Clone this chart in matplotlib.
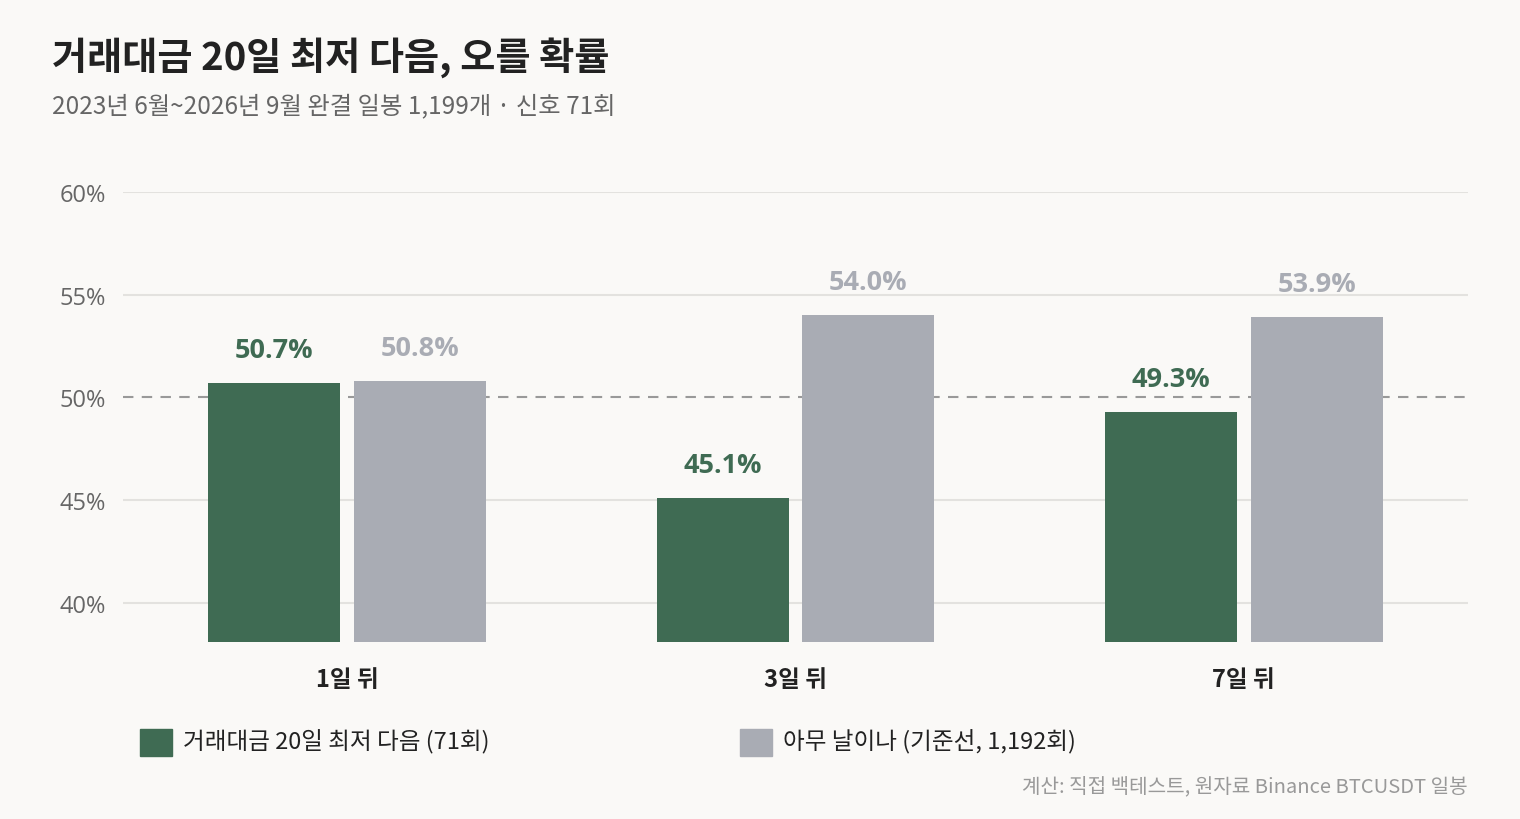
import matplotlib.pyplot as plt
import numpy as np

plt.rcParams['font.family'] = ['Noto Sans CJK KR', 'DejaVu Sans']

categories = ['1일 뒤', '3일 뒤', '7일 뒤']
signal = [50.7, 45.1, 49.3]
baseline = [50.8, 54.0, 53.9]
legend_labels = ['거래대금 20일 최저 다음 (71회)', '아무 날이나 (기준선, 1,192회)']
yticks = [40, 45, 50, 55, 60]

GREEN = '#3F6B53'
GRAY = '#A9ACB4'
BG = '#FAF9F7'
NUM_FONT = ['Open Sans', 'DejaVu Sans']

fig = plt.figure(figsize=(15.2, 8.2), dpi=100, facecolor=BG)
ax = fig.add_axes([123 / 1520, 1 - 643 / 820, 1345 / 1520, 450 / 820])
ax.set_facecolor(BG)

x = np.arange(len(categories))
w = 0.295
off = 0.1625
ax.bar(x - off, signal, w, color=GREEN, zorder=3)
ax.bar(x + off, baseline, w, color=GRAY, zorder=3)

for xi, v in zip(x, signal):
    ax.annotate(f'{v:.1f}%', (xi - off, v), xytext=(0, 24), textcoords='offset points',
                ha='center', va='center', fontsize=19.5, fontweight='bold', color=GREEN,
                family=NUM_FONT)
for xi, v in zip(x, baseline):
    ax.annotate(f'{v:.1f}%', (xi + off, v), xytext=(0, 24), textcoords='offset points',
                ha='center', va='center', fontsize=19.5, fontweight='bold', color=GRAY,
                family=NUM_FONT)

ax.set_xlim(-0.5, 2.5)
ax.set_ylim(38.1, 60)
ax.set_yticks(yticks)
ax.set_yticklabels([f'{t}%' for t in yticks], fontsize=17, color='#666666', family=NUM_FONT)
for t in yticks:
    if t != 50:
        ax.axhline(t, color='#E3E2DF', lw=1.5, zorder=1)
ax.axhline(50, color='#999999', lw=1.5, ls=(0, (5, 4)), zorder=2)

ax.set_xticks(x)
ax.set_xticklabels(categories, fontsize=17, fontweight='bold', color='#222222')
ax.tick_params(axis='both', length=0)
ax.tick_params(axis='y', pad=12)
ax.tick_params(axis='x', pad=18)
for s in ax.spines.values():
    s.set_visible(False)

fig.text(52 / 1520, 1 - 58 / 820, '거래대금 20일 최저 다음, 오를 확률', fontsize=27.5,
         fontweight='bold', color='#222222', va='center')
fig.text(52 / 1520, 1 - 106 / 820, '2023년 6월~2026년 9월 완결 일봉 1,199개 · 신호 71회',
         fontsize=17.5, color='#666666', va='center')

# legend
fig.patches.append(plt.Rectangle((140 / 1520, 1 - 757 / 820), 32 / 1520, 27 / 820,
                                 transform=fig.transFigure, color=GREEN))
fig.text(183 / 1520, 1 - 742 / 820, legend_labels[0], fontsize=17, color='#222222', va='center')
fig.patches.append(plt.Rectangle((740 / 1520, 1 - 757 / 820), 32 / 1520, 27 / 820,
                                 transform=fig.transFigure, color=GRAY))
fig.text(783 / 1520, 1 - 742 / 820, legend_labels[1], fontsize=17, color='#222222', va='center')

fig.text(1468 / 1520, 1 - 787 / 820, '계산: 직접 백테스트, 원자료 Binance BTCUSDT 일봉',
         fontsize=14.5, color='#999999', ha='right', va='center')

fig.savefig('out.png', dpi=100, facecolor=BG)
